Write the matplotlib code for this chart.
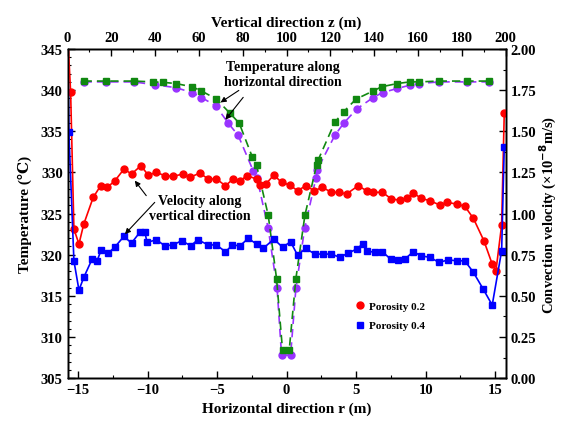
import matplotlib
matplotlib.use('Agg')
import matplotlib.pyplot as plt
from matplotlib.lines import Line2D
from matplotlib.ticker import MultipleLocator

plt.rcParams['font.family'] = ['Liberation Serif', 'DejaVu Serif']
plt.rcParams['font.weight'] = 'bold'

# Temperature along horizontal direction (bottom axis r, left axis T)
r_green = [-14.6, -12.95, -10.99, -9.6, -8.92, -7.96, -6.79, -6.12, -5.04, -4.08, -3.41, -2.47,
           -2.16, -1.32, -0.72, -0.29, 0.19, 0.67, 1.32, 2.16, 2.27, 3.47, 4.12, 4.99, 6.23,
           6.83, 7.96, 8.87, 9.54, 10.98, 12.95, 14.55]
t_green = [341.1, 341.1, 341.1, 341.0, 340.95, 340.8, 340.4, 339.9, 338.9, 337.2, 336.0, 331.9,
           330.9, 324.8, 317.1, 308.4, 308.4, 317.1, 324.8, 330.9, 331.5, 336.1, 337.4, 338.9, 339.9,
           340.4, 340.8, 341.0, 341.0, 341.1, 341.1, 341.1]

r_purple = [-14.6, -12.95, -10.99, -9.47, -7.96, -6.79, -6.12, -5.09, -4.2, -3.48, -2.4, -2.12,
            -1.32, -0.68, -0.36, 0.29, 0.67, 1.3, 2.11, 2.2, 3.47, 4.12, 5.04, 6.23, 6.9, 7.96,
            8.87, 9.54, 10.98, 12.95, 14.55]
t_purple = [341.0, 341.0, 341.0, 340.65, 340.3, 339.7, 339.1, 338.1, 336.0, 334.5, 330.2, 329.3,
            323.2, 315.9, 307.8, 307.8, 315.9, 323.2, 329.3, 330.3, 334.5, 336.0, 337.7, 339.1,
            339.7, 340.2, 340.6, 340.8, 341.0, 341.0, 341.0]

# Velocity along vertical direction (top axis z, right axis v)
z_red = [0.0, 1.4, 2.9, 5.2, 7.4, 11.7, 15.1, 18.1, 21.6, 25.8, 29.2, 33.5, 36.8, 40.6, 44.4,
         48.2, 52.5, 55.8, 60.4, 64.2, 68.0, 72.1, 75.6, 78.7, 82.0, 86.3, 87.8, 90.5, 94.2,
         97.7, 101.5, 105.0, 108.8, 112.6, 116.4, 120.5, 124.0, 127.4, 132.7, 136.5, 139.5,
         143.8, 147.9, 151.7, 155.2, 157.8, 161.6, 165.4, 170.0, 173.3, 177.6, 181.4, 185.3,
         190.1, 193.9, 195.6, 198.2, 199.4]
v_red = [2.1, 1.737, 0.906, 0.815, 0.936, 1.098, 1.169, 1.159, 1.199, 1.271, 1.240, 1.291, 1.234,
         1.250, 1.230, 1.226, 1.240, 1.220, 1.246, 1.210, 1.210, 1.169, 1.210, 1.199, 1.230,
         1.210, 1.173, 1.179, 1.234, 1.190, 1.173, 1.139, 1.169, 1.139, 1.159, 1.129, 1.129,
         1.119, 1.169, 1.139, 1.129, 1.129, 1.088, 1.082, 1.092, 1.125, 1.092, 1.078, 1.052,
         1.068, 1.058, 1.044, 0.971, 0.835, 0.693, 0.652, 0.930, 1.610]

z_blue = [0.0, 0.6, 2.9, 5.2, 7.4, 11.2, 13.5, 15.3, 18.4, 21.5, 25.7, 29.2, 33.0, 35.3, 36.3,
          40.6, 44.4, 48.2, 52.1, 56.3, 59.4, 64.2, 68.0, 72.1, 75.3, 78.7, 82.5, 86.3, 89.3,
          94.2, 98.2, 101.8, 105.0, 108.8, 112.9, 116.7, 120.5, 124.3, 128.1, 132.0, 134.7,
          136.5, 140.3, 143.8, 147.5, 151.0, 154.0, 157.8, 161.6, 165.4, 169.7, 173.8, 177.6,
          181.4, 185.3, 189.8, 193.9, 198.2, 199.4]
v_blue = [2.1, 1.494, 0.713, 0.535, 0.612, 0.723, 0.713, 0.778, 0.758, 0.795, 0.861, 0.821, 0.886,
          0.886, 0.825, 0.841, 0.804, 0.810, 0.835, 0.804, 0.841, 0.810, 0.809, 0.768, 0.809,
          0.804, 0.849, 0.815, 0.788, 0.845, 0.795, 0.829, 0.748, 0.788, 0.754, 0.754, 0.754,
          0.734, 0.760, 0.784, 0.815, 0.774, 0.764, 0.768, 0.723, 0.719, 0.723, 0.768, 0.743,
          0.734, 0.703, 0.719, 0.713, 0.713, 0.643, 0.541, 0.444, 0.774, 1.405]

fig = plt.figure(figsize=(5.63, 4.27), dpi=100)
ax = fig.add_axes([0.120, 0.112, 0.778, 0.771])
ax2 = ax.twinx()
ax3 = ax2.twiny()

# temperature curves
ax.plot(r_purple, t_purple, '--', color='#9933ff', lw=1.2, marker='o', ms=5, dashes=(5, 3))
ax.plot(r_green, t_green, '--', color='#118811', lw=1.2, marker='s', ms=5, dashes=(5, 3))
ax.set_xlim(-15.75, 15.75)
ax.set_ylim(305, 345)
ax.xaxis.set_major_locator(MultipleLocator(5))
ax.xaxis.set_minor_locator(MultipleLocator(2.5))
ax.yaxis.set_major_locator(MultipleLocator(5))
ax.yaxis.set_minor_locator(MultipleLocator(1))
ax.set_xlabel('Horizontal direction r (m)', fontsize=11, fontweight='bold', labelpad=4)
ax.set_ylabel('Temperature (℃)', fontsize=11, fontweight='bold', labelpad=6)

# velocity curves
ax3.plot(z_red, v_red, '-', color='#ff0000', lw=1.2, marker='o', ms=5)
ax3.plot(z_blue, v_blue, '-', color='#0000ff', lw=1.2, marker='s', ms=5)
ax3.set_xlim(0, 200)
ax2.set_ylim(0, 2)
ax3.xaxis.set_major_locator(MultipleLocator(20))
ax3.xaxis.set_minor_locator(MultipleLocator(10))
ax2.yaxis.set_major_locator(MultipleLocator(0.25))
ax2.yaxis.set_minor_locator(MultipleLocator(0.125))
ax2.yaxis.set_major_formatter(plt.FormatStrFormatter('%.2f'))
ax3.set_xlabel('Vertical direction z (m)', fontsize=11, fontweight='bold', labelpad=4)
ax2.set_ylabel('Convection velocity (×10$^{\\mathbf{-8}}$m/s)', fontsize=10.5, fontweight='bold')
ax2.yaxis.set_label_coords(1.075, 0.5)

for a in (ax, ax2, ax3):
    a.tick_params(which='major', direction='in', length=5, width=1, labelsize=10.5)
    a.tick_params(which='minor', direction='in', length=2.5, width=0.8)
    for s in a.spines.values():
        s.set_linewidth(1.0)
ax.tick_params(top=False, right=False)

ax.annotate('Temperature along\nhorizontal direction', xy=(-4.75, 338.5), xytext=(0.492, 0.925),
            textcoords='axes fraction', ha='center', va='center', fontsize=10, fontweight='bold',
            arrowprops=dict(arrowstyle='-|>', color='black', lw=0.8, mutation_scale=8,
                            shrinkA=0, shrinkB=0, relpos=(0.16, 0.0)))
ax.annotate('', xy=(-4.4, 336.4), xytext=(0.401, 0.853), textcoords='axes fraction',
            arrowprops=dict(arrowstyle='-|>', color='black', lw=0.8, mutation_scale=8,
                            shrinkA=0, shrinkB=0))
ax3.annotate('Velocity along\nvertical direction', xy=(30.7, 1.2), xytext=(0.302, 0.517),
             textcoords='axes fraction', ha='center', va='center', fontsize=10, fontweight='bold',
             arrowprops=dict(arrowstyle='-|>', color='black', lw=0.8, mutation_scale=8,
                             shrinkA=0, shrinkB=0, relpos=(0.04, 0.62)))
ax3.annotate('', xy=(26.2, 0.875), xytext=(0.199, 0.534), textcoords='axes fraction',
             arrowprops=dict(arrowstyle='-|>', color='black', lw=0.8, mutation_scale=8,
                             shrinkA=0, shrinkB=0))

handles = [Line2D([], [], color='#ff0000', marker='o', ls='none', ms=5, label='Porosity 0.2'),
           Line2D([], [], color='#0000ff', marker='s', ls='none', ms=5, label='Porosity 0.4')]
ax3.legend(handles=handles, loc='center left', bbox_to_anchor=(0.635, 0.19), frameon=False,
           prop={'size': 8, 'weight': 'bold'}, handlelength=0.8, handletextpad=0.4,
           labelspacing=0.9)

fig.savefig('out.png', dpi=100)
